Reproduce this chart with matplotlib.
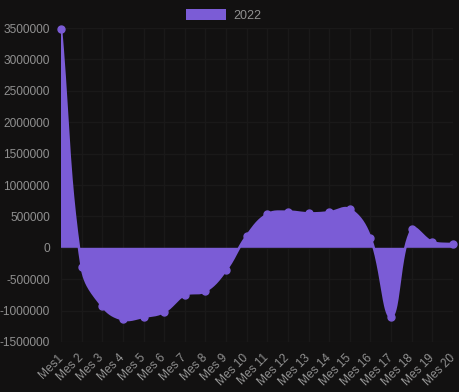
import numpy as np
import matplotlib
matplotlib.use("Agg")
import matplotlib.pyplot as plt
from matplotlib.patches import Patch

labels = ["Mes1"] + ["Mes %d" % i for i in range(2, 21)]
values = [3490000, -300000, -930000, -1140000, -1100000, -1020000, -750000,
          -690000, -355000, 188000, 533000, 575000, 549000, 565000, 613000,
          161000, -1100000, 294000, 92000, 60000]
yticks = list(range(-1500000, 3500001, 500000))

purple = "#7b5cd6"
bg = "#121111"
txt = "#909090"
grid = "#1a1919"

plt.rcParams["font.family"] = ["Liberation Sans", "DejaVu Sans"]

fig = plt.figure(figsize=(4.6, 3.92), dpi=100, facecolor=bg)
ax = fig.add_axes([61 / 460, 50 / 392, 392 / 460, 314 / 392])
ax.set_facecolor(bg)
x = np.arange(len(values))
ax.set_xlim(0, len(values) - 1)
ax.set_ylim(-1500000, 3500000)

# chart.js style bezier (tension 0.4), worked out in pixel space
tension = 0.4
pts = ax.transData.transform(np.column_stack([x, values]))
bbox = ax.get_window_extent()
n = len(pts)
cp_prev = np.zeros_like(pts)
cp_next = np.zeros_like(pts)
for i in range(n):
    p0 = pts[max(i - 1, 0)]
    p1 = pts[i]
    p2 = pts[min(i + 1, n - 1)]
    d01 = np.hypot(*(p1 - p0))
    d12 = np.hypot(*(p2 - p1))
    s01 = d01 / (d01 + d12) if d01 + d12 else 0
    s12 = d12 / (d01 + d12) if d01 + d12 else 0
    cp_prev[i] = p1 - tension * s01 * (p2 - p0)
    cp_next[i] = p1 + tension * s12 * (p2 - p0)
for c in (cp_prev, cp_next):
    c[:, 0] = np.clip(c[:, 0], bbox.x0, bbox.x1)
    c[:, 1] = np.clip(c[:, 1], bbox.y0, bbox.y1)

t = np.linspace(0, 1, 40)[:, None]
curve = []
for i in range(n - 1):
    a, b, c, d = pts[i], cp_next[i], cp_prev[i + 1], pts[i + 1]
    seg = ((1 - t) ** 3) * a + 3 * ((1 - t) ** 2) * t * b + 3 * (1 - t) * t ** 2 * c + t ** 3 * d
    curve.append(seg if i == 0 else seg[1:])
curve = np.vstack(curve)
curve = ax.transData.inverted().transform(curve)

poly_x = np.concatenate([curve[:, 0], [x[-1], x[0]]])
poly_y = np.concatenate([curve[:, 1], [0, 0]])
ax.fill(poly_x, poly_y, color=purple, lw=0, zorder=2)
ax.plot(curve[:, 0], curve[:, 1], color=purple, lw=1.8, zorder=3)
ax.plot(x, values, "o", color=purple, ms=5, zorder=4, clip_on=False)

ax.set_yticks(yticks)
ax.set_yticklabels([str(v) for v in yticks])
ax.set_xticks(x)
ax.set_xticklabels(labels, rotation=45, ha="right", va="center", rotation_mode="anchor")
ax.tick_params(colors=txt, labelsize=8.6, length=0)
ax.tick_params(axis="y", pad=8)
ax.tick_params(axis="x", pad=10)
ax.grid(True, color=grid, lw=1)
ax.set_axisbelow(True)
for s in ax.spines.values():
    s.set_visible(False)

fig.legend(handles=[Patch(facecolor=purple, label="2022")], loc="upper center",
           bbox_to_anchor=(0.487, 1.0), frameon=False, labelcolor=txt, fontsize=9,
           handlelength=3.2, handleheight=1.05, borderaxespad=0.3, handletextpad=0.6)

fig.savefig("out.png", dpi=100, facecolor=bg)
